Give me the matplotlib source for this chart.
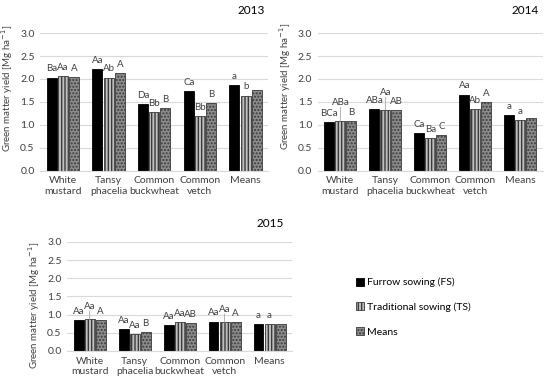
import matplotlib.pyplot as plt
import numpy as np

plt.rcParams['font.family'] = ['Lato', 'DejaVu Sans']

categories = ['White\nmustard', 'Tansy\nphacelia', 'Common\nbuckwheat', 'Common\nvetch', 'Means']
series_names = ['Furrow sowing (FS)', 'Traditional sowing (TS)', 'Means']

# 2013
fs_2013 = [2.03, 2.21, 1.45, 1.74, 1.86]
ts_2013 = [2.07, 2.03, 1.28, 1.20, 1.64]
mean_2013 = [2.05, 2.12, 1.37, 1.47, 1.76]
lab_fs_2013 = ['Ba', 'Aa', 'Da', 'Ca', 'a']
lab_ts_2013 = ['Aa', 'Ab', 'Bb', 'Bb', 'b']
lab_mean_2013 = ['A', 'A', 'B', 'B', '']

# 2014
fs_2014 = [1.07, 1.34, 0.83, 1.66, 1.22]
ts_2014 = [1.08, 1.33, 0.72, 1.34, 1.11]
mean_2014 = [1.08, 1.33, 0.77, 1.50, 1.16]
lab_fs_2014 = ['BCa', 'ABa', 'Ca', 'Aa', 'a']
lab_ts_2014 = ['ABa', 'Aa', 'Ba', 'Ab', 'a']
lab_mean_2014 = ['B', 'AB', 'C', 'A', '']

# 2015
fs_2015 = [0.85, 0.60, 0.72, 0.81, 0.75]
ts_2015 = [0.87, 0.46, 0.79, 0.79, 0.74]
mean_2015 = [0.85, 0.53, 0.76, 0.80, 0.74]
lab_fs_2015 = ['Aa', 'Aa', 'Aa', 'Aa', 'a']
lab_ts_2015 = ['Aa', 'Aa', 'Aa', 'Aa', 'a']
lab_mean_2015 = ['A', 'B', 'AB', 'A', '']

text_col = '#404040'
grid_col = '#d9d9d9'

styles = [
    dict(color='black', edgecolor='black', hatch=None),
    dict(color='#bfbfbf', edgecolor='#3a3a3a', hatch='|||||'),
    dict(color='#8c8c8c', edgecolor='#3a3a3a', hatch='.....'),
]

fig = plt.figure(figsize=(5.5, 3.84), dpi=100)


def panel(rect, title, title_xy, values, labels, raised, ylab_y):
    ax = fig.add_axes(rect)
    x = np.arange(len(categories))
    w = 0.22
    offs = [-0.245, 0, 0.245]
    for k in range(3):
        bars = ax.bar(x + offs[k], values[k], w, linewidth=0.6,
                      label=series_names[k], **styles[k])
        for i, b in enumerate(bars):
            txt = labels[k][i]
            if not txt:
                continue
            dy = 3
            if (k, i) in raised:
                dy = raised[(k, i)]
                ax.annotate('', xy=(b.get_x() + w / 2, b.get_height()),
                            xytext=(0, dy), textcoords='offset points',
                            xycoords='data',
                            arrowprops=dict(arrowstyle='-', color='#a6a6a6', lw=0.6,
                                            shrinkA=0, shrinkB=0))
            ax.annotate(txt, (b.get_x() + w / 2, b.get_height()),
                        xytext=(0, dy), textcoords='offset points',
                        ha='center', va='bottom', fontsize=7, color=text_col)
    ax.set_ylim(0, 3.0)
    ax.set_xlim(-0.5, len(categories) - 0.5)
    ax.set_yticks(np.arange(0, 3.01, 0.5))
    ax.set_yticklabels(['%.1f' % v for v in np.arange(0, 3.01, 0.5)])
    ax.set_xticks(x)
    ax.set_xticklabels(categories)
    ax.tick_params(axis='both', length=0, labelsize=7.5, colors=text_col, pad=4)
    ax.grid(axis='y', color=grid_col, linewidth=0.8)
    ax.set_axisbelow(True)
    for s in ['top', 'right', 'left']:
        ax.spines[s].set_visible(False)
    ax.spines['bottom'].set_color(grid_col)
    ax.set_ylabel('Green matter yield [Mg ha$^{-1}$]', fontsize=7, color=text_col, labelpad=3)
    ax.yaxis.set_label_coords(-0.11, ylab_y)
    fig.text(title_xy[0], title_xy[1], title, fontsize=8.5, ha='center', va='center', color='black')
    return ax


panel([0.073, 0.555, 0.415, 0.359], '2013', (0.456, 0.972),
      [fs_2013, ts_2013, mean_2013],
      [lab_fs_2013, lab_ts_2013, lab_mean_2013], {}, 0.60)
panel([0.578, 0.555, 0.409, 0.359], '2014', (0.955, 0.972),
      [fs_2014, ts_2014, mean_2014],
      [lab_fs_2014, lab_ts_2014, lab_mean_2014], {(1, 0): 10, (1, 1): 9}, 0.61)
ax3 = panel([0.122, 0.086, 0.409, 0.284], '2015', (0.491, 0.417),
            [fs_2015, ts_2015, mean_2015],
            [lab_fs_2015, lab_ts_2015, lab_mean_2015], {(1, 0): 6, (1, 3): 6}, 0.42)

handles, labs = ax3.get_legend_handles_labels()
fig.legend(handles, labs, loc='center left', bbox_to_anchor=(0.63, 0.2),
           frameon=False, fontsize=7.5, labelcolor='black',
           handlelength=0.8, handleheight=0.8, handletextpad=0.3,
           labelspacing=1.45)

fig.savefig('out.png', dpi=100)
